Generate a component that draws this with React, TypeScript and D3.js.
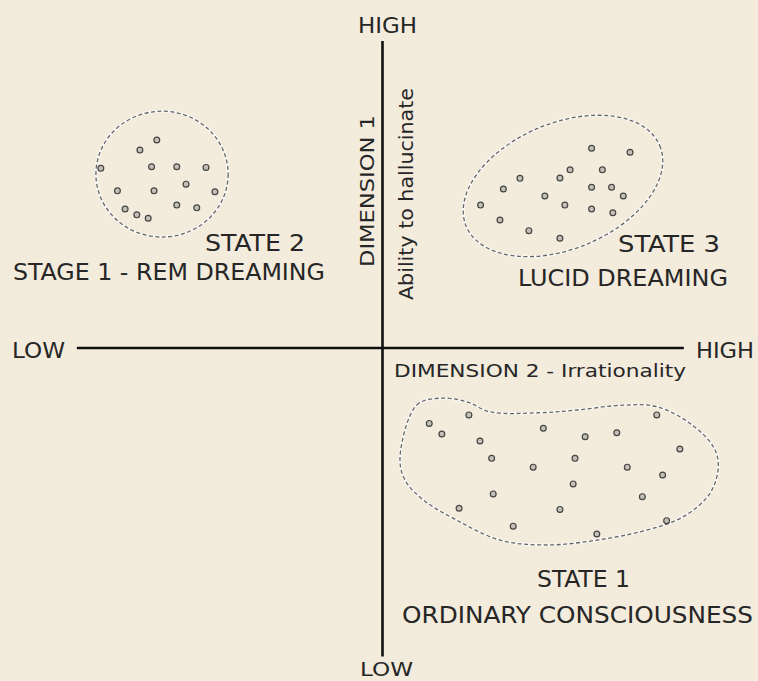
import { useMemo } from 'react'
import * as d3 from 'd3'

const WIDTH = 758
const HEIGHT = 681
const FONT = '"DejaVu Sans Condensed", "DejaVu Sans", sans-serif'

// data space: Dimension 2 (irrationality) on x, Dimension 1 (hallucination) on y, both -100..100
const xExtent = [-99.4, 98]
const yExtent = [101, -101.5]

// State 2 - stage 1 REM dreaming
const state2Dots: [number, number][] = [
  [-73.4, 68.4], [-78.9, 65.1], [-75.1, 59.6], [-66.9, 59.6], [-57.4, 59.4],
  [-91.6, 59.1], [-63.9, 53.9], [-54.5, 51.4], [-86.2, 51.7], [-74.3, 51.7],
  [-66.9, 47.0], [-60.4, 46.1], [-83.7, 45.7], [-79.9, 43.8], [-76.2, 42.7],
]
const state2Outline = [-71.7, 57.2, 21.5, 20.7] // cx, cy, rx, ry

// State 3 - lucid dreaming
const state3Dots: [number, number][] = [
  [68.0, 65.7], [80.5, 64.4], [61.0, 58.6], [57.7, 55.9], [71.5, 58.6],
  [44.7, 55.8], [39.3, 52.3], [68.0, 52.9], [74.5, 52.9], [78.3, 50.0],
  [52.8, 50.0], [59.3, 47.0], [31.9, 47.0], [68.0, 45.7], [74.9, 44.5],
  [38.2, 42.1], [47.6, 38.6], [57.7, 36.1],
]
const state3Outline = [58.7, 53.3, 34.1, 20.7, -22.6] // cx, cy, rx, ry, tilt

// State 1 - ordinary consciousness
const state1Dots: [number, number][] = [
  [28.1, -22.0], [15.2, -24.8], [19.3, -28.3], [52.3, -26.4], [65.9, -29.2],
  [76.2, -27.9], [89.2, -22.0], [31.7, -30.6], [96.7, -33.2], [35.5, -36.3],
  [49.0, -39.2], [62.6, -36.3], [79.6, -39.2], [91.1, -41.8], [62.0, -44.7],
  [36.0, -48.0], [84.5, -48.9], [24.9, -52.7], [57.7, -53.1], [92.4, -56.8],
  [42.5, -58.6], [69.7, -61.2],
]
const state1Outline: [number, number][] = [
  [5.7, -35.8], [11.1, -18.8], [18.7, -16.5], [27.4, -17.7], [35.0, -21.0],
  [51.2, -21.3], [63.2, -20.4], [78.3, -18.8], [89.2, -19.3], [100, -24.8],
  [107.6, -32.5], [109.2, -39.0], [106.5, -47.8], [97.8, -55.5], [85.9, -59.9],
  [69.7, -63.2], [53.4, -64.8], [38.2, -63.2], [24.1, -56.6], [13.3, -50.0],
  [7.3, -43.4],
]

const Dots = ({ data, x, y }: any) => (
  <g>
    {data.map((d: [number, number], i: number) => (
      <circle
        key={i}
        cx={x(d[0])}
        cy={y(d[1])}
        r={2.9}
        fill="#c4c0b7"
        stroke="#444"
        strokeWidth={1.2}
      />
    ))}
  </g>
)

const dashHalo = { fill: 'none', stroke: '#ffffff', strokeWidth: 2.8, strokeOpacity: 0.75 }
const dashLine = { fill: 'none', stroke: '#666', strokeWidth: 1.3, strokeDasharray: '4 2.5' }

const Label = ({ x, y, w, size = 23, children, transform }: any) => (
  <text
    x={x}
    y={y}
    transform={transform}
    textLength={w}
    lengthAdjust="spacingAndGlyphs"
    style={{ fontFamily: FONT, fontSize: size, fill: '#262626' }}
  >
    {children}
  </text>
)

export default function App() {
  const x = useMemo(() => d3.scaleLinear().domain([-100, 100]).range([75, 690]), [])
  const y = useMemo(() => d3.scaleLinear().domain([-100, 100]).range([652, 44]), [])

  const blob = d3
    .line<[number, number]>()
    .x((d) => x(d[0]))
    .y((d) => y(d[1]))
    .curve(d3.curveCatmullRomClosed.alpha(0.5))(state1Outline) as string

  const [c2x, c2y, r2x, r2y] = state2Outline
  const [c3x, c3y, r3x, r3y, tilt] = state3Outline

  const e2 = {
    cx: x(c2x),
    cy: y(c2y),
    rx: x(c2x + r2x) - x(c2x),
    ry: y(c2y) - y(c2y + r2y),
  }
  const e3 = {
    cx: x(c3x),
    cy: y(c3y),
    rx: x(c3x + r3x) - x(c3x),
    ry: y(c3y) - y(c3y + r3y),
  }
  const e3t = `rotate(${tilt},${e3.cx},${e3.cy})`

  return (
    <svg
      width={WIDTH}
      height={HEIGHT}
      style={{ position: 'absolute', left: 0, top: 0, display: 'block' }}
    >
      <rect width="100%" height="100%" fill="#f3ebdc" />

      {/* axes */}
      <line x1={x(xExtent[0])} x2={x(xExtent[1])} y1={y(0)} y2={y(0)} stroke="#111" strokeWidth={2.6} />
      <line x1={x(0)} x2={x(0)} y1={y(yExtent[0])} y2={y(yExtent[1])} stroke="#111" strokeWidth={2.6} />

      {/* cluster outlines */}
      <ellipse {...e2} style={dashHalo} />
      <ellipse {...e2} style={dashLine} />
      <ellipse {...e3} transform={e3t} style={dashHalo} />
      <ellipse {...e3} transform={e3t} style={dashLine} />
      <path d={blob} style={dashHalo} />
      <path d={blob} style={dashLine} />

      <Dots data={state2Dots} x={x} y={y} />
      <Dots data={state3Dots} x={x} y={y} />
      <Dots data={state1Dots} x={x} y={y} />

      {/* axis labels */}
      <Label x={358} y={33} w={59} size={21}>HIGH</Label>
      <Label x={360} y={676} w={53} size={20}>LOW</Label>
      <Label x={12} y={358} w={53} size={21}>LOW</Label>
      <Label x={696} y={358} w={58} size={21}>HIGH</Label>
      <Label x={394} y={377} w={292} size={17}>DIMENSION 2 - Irrationality</Label>
      <Label x={0} y={0} w={152} size={20} transform="translate(374,267) rotate(-90)">
        DIMENSION 1
      </Label>
      <Label x={0} y={0} w={212} size={20} transform="translate(413,300) rotate(-90)">
        Ability to hallucinate
      </Label>

      {/* state labels */}
      <Label x={205} y={251} w={100}>STATE 2</Label>
      <Label x={13} y={280} w={312}>STAGE 1 - REM DREAMING</Label>
      <Label x={618} y={252} w={102}>STATE 3</Label>
      <Label x={518} y={286} w={210}>LUCID DREAMING</Label>
      <Label x={537} y={587} w={93}>STATE 1</Label>
      <Label x={402} y={623} w={351}>ORDINARY CONSCIOUSNESS</Label>
    </svg>
  )
}
